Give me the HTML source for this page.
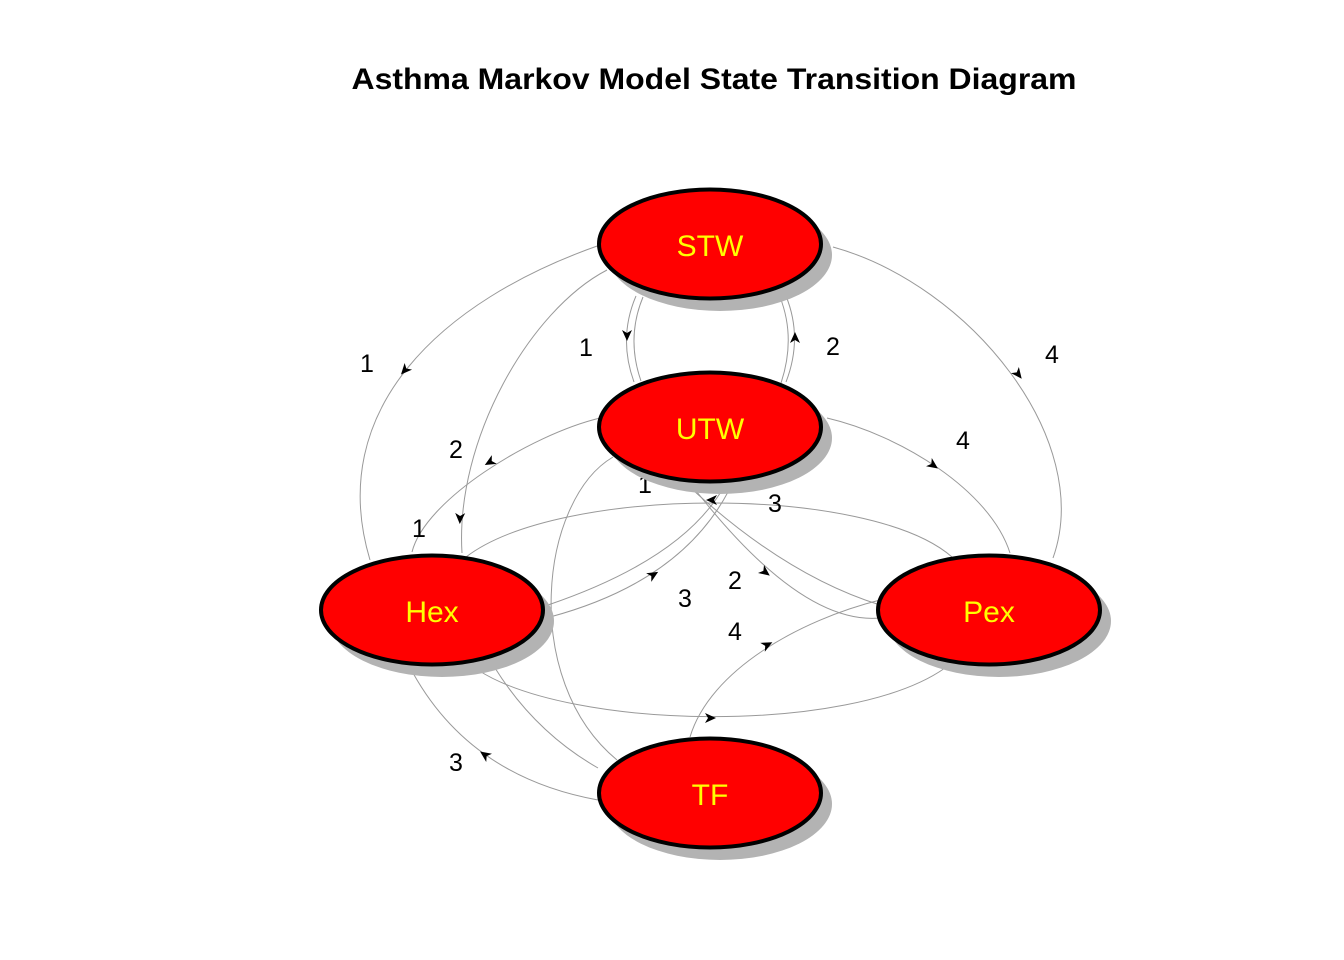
<!DOCTYPE html>
<html>
<head>
<meta charset="utf-8">
<style>
html,body{margin:0;padding:0;background:#fff;}
svg{display:block;}
</style>
</head>
<body>
<svg width="1344" height="960" viewBox="0 0 1344 960" xmlns="http://www.w3.org/2000/svg">
<rect width="1344" height="960" fill="#fff"/>
<text x="714" y="89" text-anchor="middle" font-family="Liberation Sans, Arial, sans-serif" font-weight="bold" font-size="29.5" textLength="725" lengthAdjust="spacingAndGlyphs" fill="#000">Asthma Markov Model State Transition Diagram</text>

<g fill="none" stroke="#999" stroke-width="1">
  <path d="M600,245 C440,301 325,410 370,560"/>
  <path d="M607,270 C530,310 455,440 462,553"/>
  <path d="M600,418 C530,435 425,500 412,552"/>
  <path d="M466,557 C560,485 870,485 952,557"/>
  <path d="M548,605 Q680,560 722,490"/>
  <path d="M550,617 Q680,582 728,492"/>
  <path d="M693,490 Q787,576 880,605"/>
  <path d="M697,492 Q802,625 880,618"/>
  <path d="M827,418 C900,435 990,490 1010,553"/>
  <path d="M833,247 C970,285 1095,440 1053,558"/>
  <path d="M636,296 Q618,338 634,382"/>
  <path d="M643,297 Q626,338 641,381"/>
  <path d="M786,296 Q803,338 786,382"/>
  <path d="M780,297 Q796,338 781,383"/>
  <path d="M613,457 C540,500 520,680 617,760"/>
  <path d="M495,668 Q535,732 598,768"/>
  <path d="M413,673 Q471,777 598,800"/>
  <path d="M478,670 C570,730 850,735 945,668"/>
  <path d="M880,600 C800,620 710,670 690,737"/>
</g>

<g fill="#000">
  <polygon points="6,0 -5,-5 -2,0 -5,5" transform="translate(405,370) rotate(132)"/>
  <polygon points="6,0 -5,-5 -2,0 -5,5" transform="translate(460,518) rotate(92)"/>
  <polygon points="6,0 -5,-5 -2,0 -5,5" transform="translate(490,462) rotate(150)"/>
  <polygon points="6,0 -5,-5 -2,0 -5,5" transform="translate(712,500) rotate(180)"/>
  <polygon points="6,0 -5,-5 -2,0 -5,5" transform="translate(653,575) rotate(-31)"/>
  <polygon points="6,0 -5,-5 -2,0 -5,5" transform="translate(765,572) rotate(37)"/>
  <polygon points="6,0 -5,-5 -2,0 -5,5" transform="translate(933,465) rotate(35)"/>
  <polygon points="6,0 -5,-5 -2,0 -5,5" transform="translate(1018,374) rotate(52)"/>
  <polygon points="6,0 -5,-5 -2,0 -5,5" transform="translate(627,335) rotate(90)"/>
  <polygon points="6,0 -5,-5 -2,0 -5,5" transform="translate(795,338) rotate(-90)"/>
  <polygon points="6,0 -5,-5 -2,0 -5,5" transform="translate(485,755) rotate(-145)"/>
  <polygon points="6,0 -5,-5 -2,0 -5,5" transform="translate(710,718) rotate(0)"/>
  <polygon points="6,0 -5,-5 -2,0 -5,5" transform="translate(767,645) rotate(-27)"/>
</g>

<g font-family="Liberation Sans, Arial, sans-serif" font-size="25" fill="#000" text-anchor="middle">
  <text x="367" y="372">1</text>
  <text x="586" y="356">1</text>
  <text x="833" y="355">2</text>
  <text x="1052" y="363">4</text>
  <text x="456" y="458">2</text>
  <text x="963" y="449">4</text>
  <text x="419" y="537">1</text>
  <text x="645" y="493">1</text>
  <text x="775" y="512">3</text>
  <text x="735" y="589">2</text>
  <text x="685" y="607">3</text>
  <text x="735" y="640">4</text>
  <text x="456" y="771">3</text>
</g>

<g>
  <ellipse cx="720" cy="255" rx="112" ry="56" fill="#b3b3b3"/>
  <ellipse cx="710" cy="244" rx="111" ry="54.5" fill="#ff0000" stroke="#000" stroke-width="4"/>
  <ellipse cx="720" cy="438" rx="112" ry="56" fill="#b3b3b3"/>
  <ellipse cx="710" cy="427" rx="111" ry="54.5" fill="#ff0000" stroke="#000" stroke-width="4"/>
  <ellipse cx="442" cy="621" rx="112" ry="56" fill="#b3b3b3"/>
  <ellipse cx="432" cy="610" rx="111" ry="54.5" fill="#ff0000" stroke="#000" stroke-width="4"/>
  <ellipse cx="999" cy="621" rx="112" ry="56" fill="#b3b3b3"/>
  <ellipse cx="989" cy="610" rx="111" ry="54.5" fill="#ff0000" stroke="#000" stroke-width="4"/>
  <ellipse cx="720" cy="804" rx="112" ry="56" fill="#b3b3b3"/>
  <ellipse cx="710" cy="793" rx="111" ry="54.5" fill="#ff0000" stroke="#000" stroke-width="4"/>
</g>

<g font-family="Liberation Sans, Arial, sans-serif" font-size="30" fill="#ffff00" text-anchor="middle">
  <text x="710" y="256">STW</text>
  <text x="710" y="439">UTW</text>
  <text x="432" y="622">Hex</text>
  <text x="989" y="622">Pex</text>
  <text x="710" y="805">TF</text>
</g>
</svg>
</body>
</html>
